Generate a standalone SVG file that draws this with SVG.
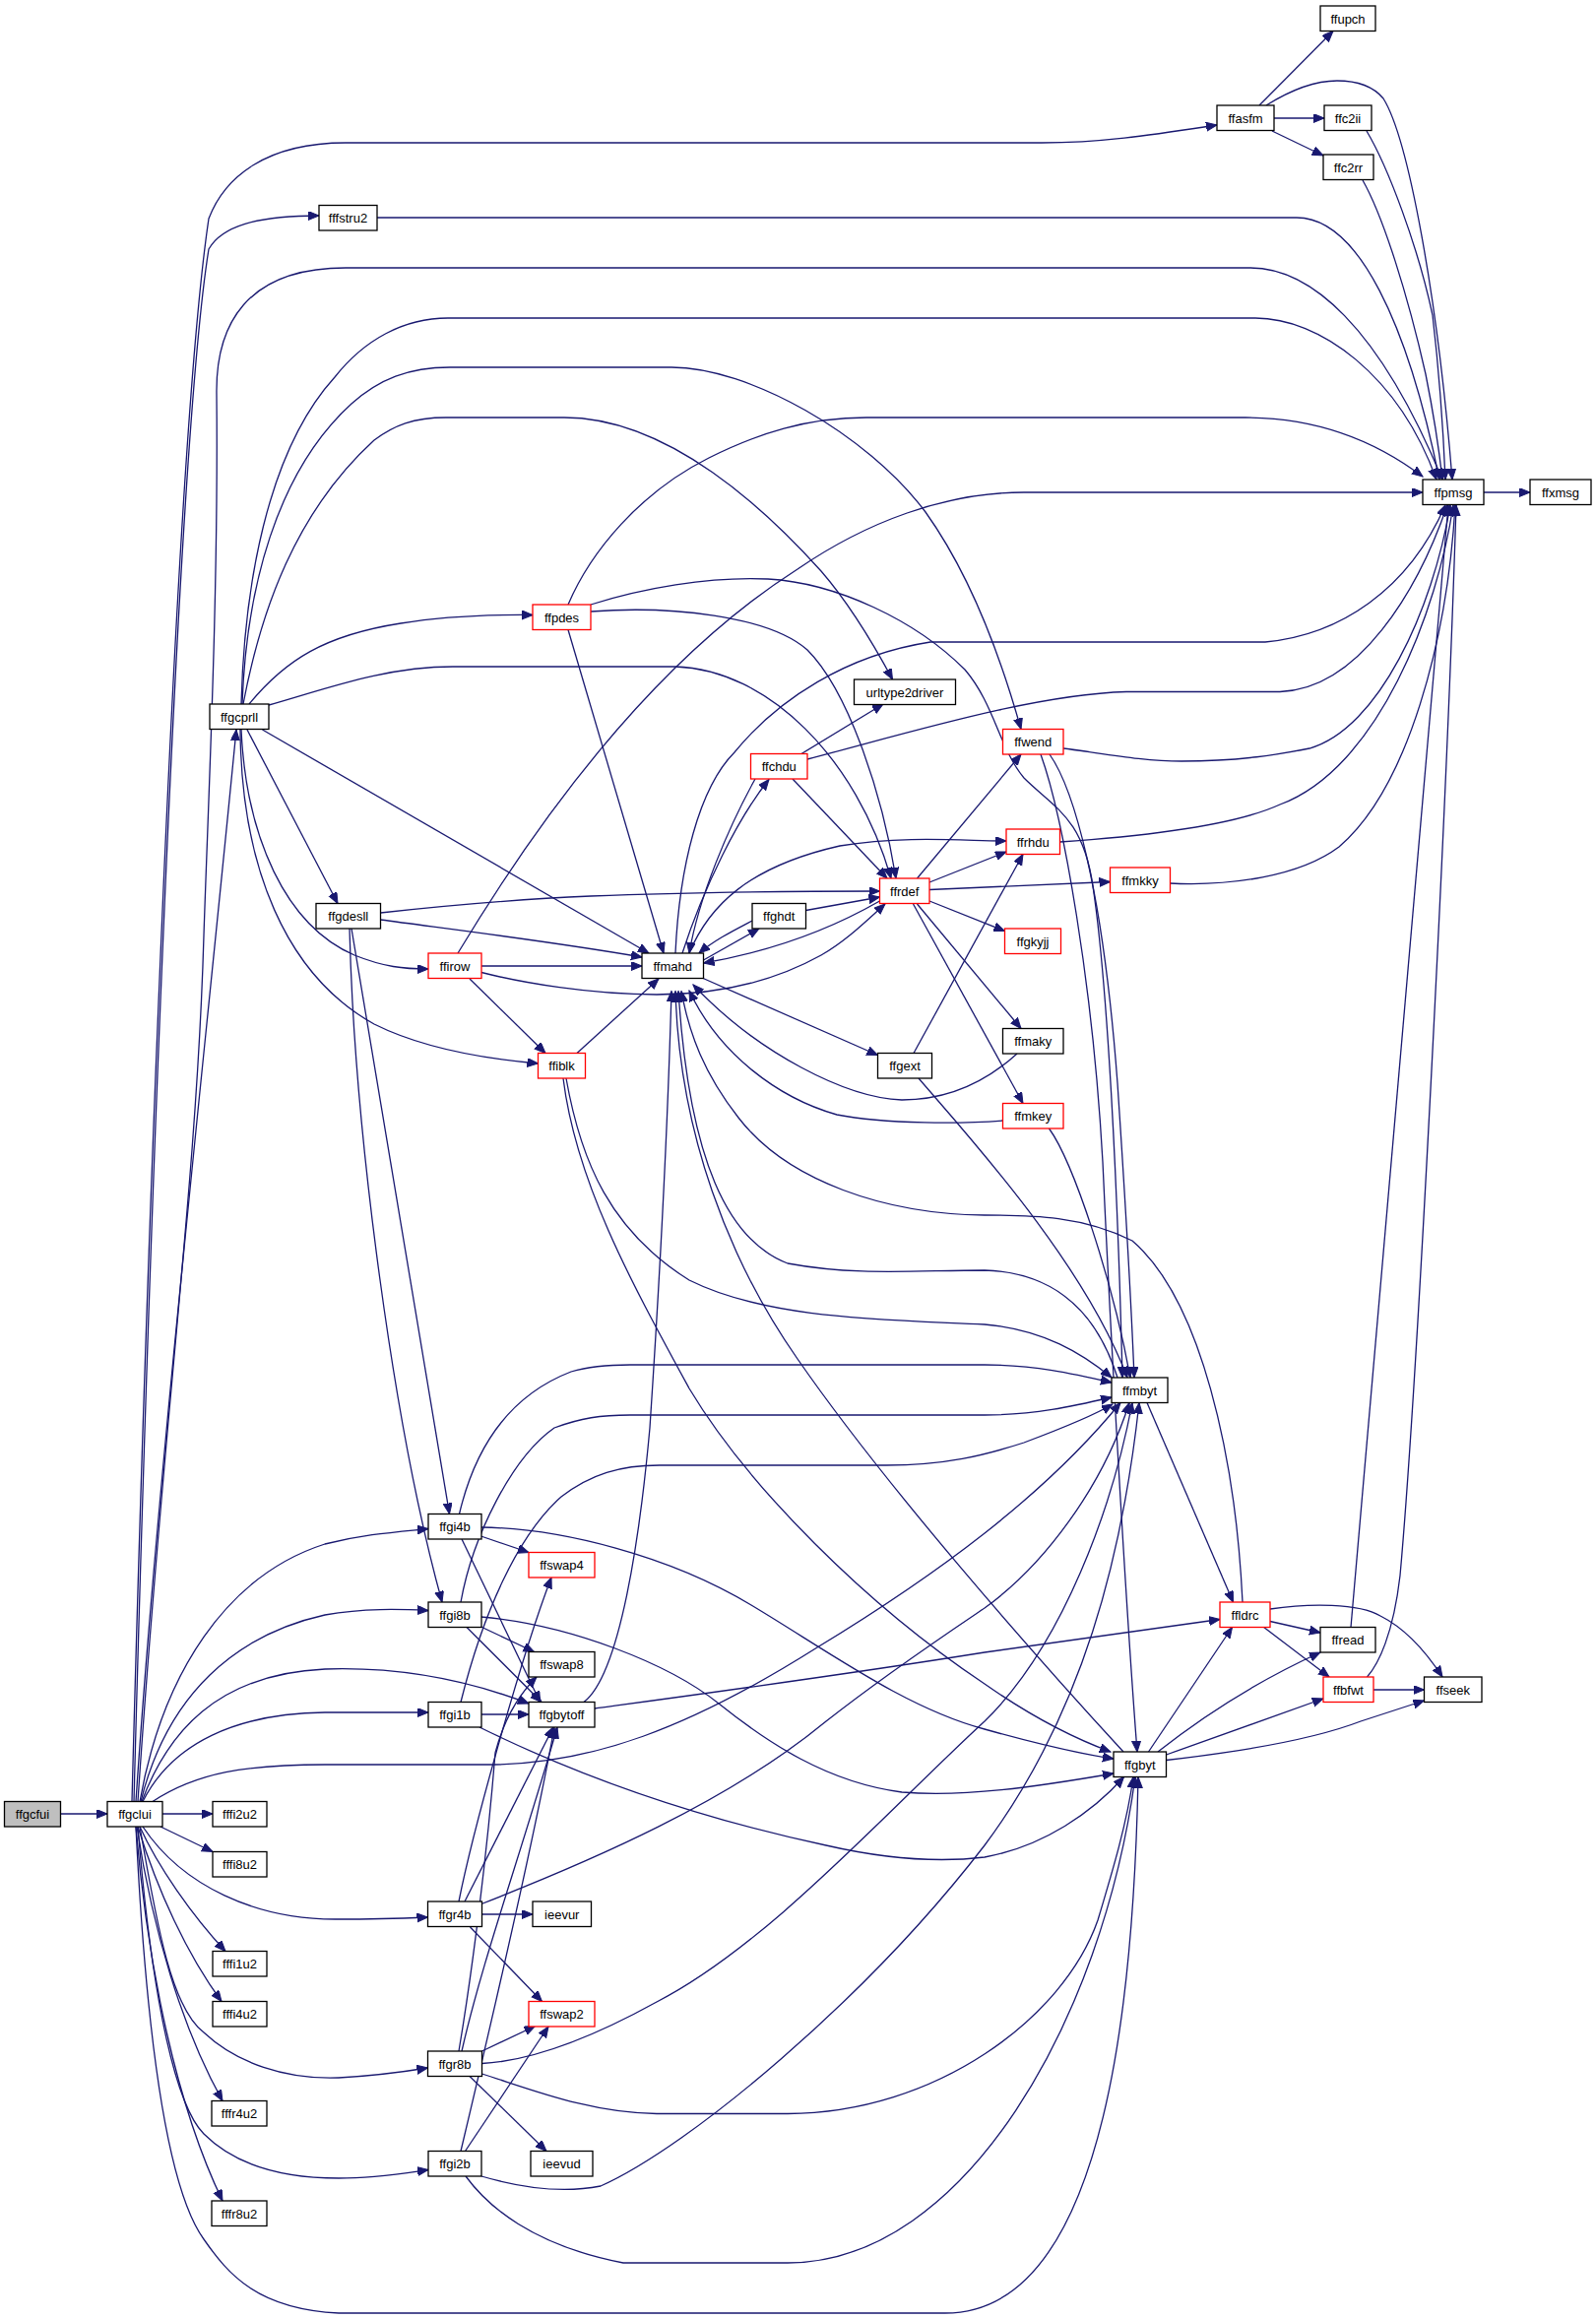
<svg xmlns="http://www.w3.org/2000/svg" width="1621" height="2355" viewBox="0 0 1621 2355">
<defs>
<marker id="a" markerWidth="12" markerHeight="10" refX="11" refY="4.5" orient="auto" markerUnits="userSpaceOnUse"><path d="M0,0 L11,4.5 L0,9 z" fill="#191970" stroke="#191970" stroke-width="1"/></marker>
<style>
.e{fill:none;stroke:#191970;stroke-width:1.3;marker-end:url(#a)}
.n rect{fill:#fff;stroke:#000;stroke-width:1.3}
.r rect{fill:#fff;stroke:#ff0000;stroke-width:1.3}
.g rect{fill:#bfbfbf;stroke:#000;stroke-width:1.3}
text{font-family:"Liberation Sans",Arial,sans-serif;font-size:13px;text-anchor:middle;fill:#000}
</style>
</defs>
<rect width="1621" height="2355" fill="#fff"/>
<g id="edges">
<path class="e" d="M61.5,1842 L109,1842"/>
<path class="e" d="M165,1842 L216,1842"/>
<path class="e" d="M163,1855 L216,1880.5"/>
<path class="e" d="M142,1855 C160,1895 195,1945 229,1981.5"/>
<path class="e" d="M140,1855 C160,1920 190,1985 225,2032.5"/>
<path class="e" d="M139,1855 C155,1960 185,2060 226,2133.5"/>
<path class="e" d="M138,1855 C150,2000 180,2140 226,2235"/>
<path class="e" d="M145,1855 C185,1915 260,1950 344,1949 C380,1949 410,1948 434.5,1947"/>
<path class="e" d="M142,1855 C160,1960 175,2040 207,2064 C240,2095 290,2112 344,2110 C380,2108 410,2104 434.5,2100"/>
<path class="e" d="M140,1855 C155,2040 180,2140 207,2167 C240,2200 290,2212 344,2212 C380,2212 410,2207 435,2203.5"/>
<path class="e" d="M138,1855 C150,2100 175,2230 207,2274 C232,2310 262,2345 344,2349 L960,2349 C1130,2349 1152,2000 1156,1804.5"/>
<path class="e" d="M142,1829.5 C165,1700 230,1600 330,1568 C370,1558 400,1556 435,1552.5"/>
<path class="e" d="M143,1829.5 C170,1720 240,1660 330,1640 C370,1633 405,1634 435,1635.5"/>
<path class="e" d="M144,1829.5 C170,1760 220,1700 330,1695 C420,1692 490,1712 537,1730"/>
<path class="e" d="M145,1829.5 C175,1770 240,1740 330,1739 L435,1739"/>
<path class="e" d="M155,1829.5 C200,1800 250,1792 330,1792 L495,1792 C600,1792 700,1755 830,1673 C950,1600 1060,1520 1138,1424.5"/>
<path class="e" d="M136,1829.5 C150,1300 180,450 212,253 C225,230 260,219 324,219"/>
<path class="e" d="M134,1829.5 C148,1300 178,450 212,222 C228,180 270,145 351,145 L1058,145 C1120,145 1170,137 1236,127"/>
<path class="e" d="M138,1829.5 C160,1500 205,1100 240,741"/>
<path class="e" d="M140,1829.5 C165,1450 200,1200 207,950 C212,800 222,600 220,400 C219,330 250,272 351,272 L1270,272 C1330,272 1400,330 1465,487"/>
<path class="e" d="M383,221 L1317,221 C1380,221 1430,330 1462,487"/>
<path class="e" d="M245,715 C248,600 270,460 340,383 C370,345 410,323 455,323 L1275,323 C1340,323 1420,380 1459,487"/>
<path class="e" d="M246,715 C250,600 280,480 357,410 C385,385 415,373 457,373 L682,373 C760,373 880,440 940,520 C990,590 1020,680 1037,740.5"/>
<path class="e" d="M247,715 C265,620 300,520 380,447 C400,432 420,424 453,424 L573,424 C680,424 780,520 834,580 C860,610 885,650 906.5,690"/>
<path class="e" d="M253,715 C290,670 330,645 407,633 C450,626 490,624 541,624.5"/>
<path class="e" d="M273,716 C330,700 390,677 460,677 L686,677 C780,680 870,770 905,892"/>
<path class="e" d="M266.5,741 L659,968"/>
<path class="e" d="M251,741 L343,917.5"/>
<path class="e" d="M245,741 C250,850 290,940 360,970 C390,982 410,984 435,984"/>
<path class="e" d="M244,741 C245,880 290,990 380,1040 C430,1065 490,1075 546.5,1080"/>
<path class="e" d="M577,639.5 L674,968"/>
<path class="e" d="M600,621 C680,615 780,625 820,660 C860,700 895,800 910,892"/>
<path class="e" d="M600,614 C650,598 720,585 780,588 C850,592 930,630 980,680 C1010,715 1015,760 1040,790 C1070,820 1100,830 1110,900 C1125,1000 1135,1200 1140,1399"/>
<path class="e" d="M577,614 C600,560 650,500 720,465 C770,440 820,424 880,424 L1265,424 C1340,424 1400,450 1445,484"/>
<path class="e" d="M489,981 L652,981"/>
<path class="e" d="M489,987.5 C530,998 600,1010 667,1010 C720,1010 780,1000 834,970 C860,955 880,935 899,918"/>
<path class="e" d="M477,994 L554,1069.5"/>
<path class="e" d="M465,968 C530,860 650,680 810,578 C880,530 960,500 1040,500 L1445,500"/>
<path class="e" d="M386.5,927 C450,920 530,913 600,910 C700,906 800,905 893.5,905"/>
<path class="e" d="M386.5,934 C460,944 560,956 652,972"/>
<path class="e" d="M357,943 L456.5,1537.5"/>
<path class="e" d="M355,943 C360,1150 400,1450 449,1627"/>
<path class="e" d="M586,1069.5 L669,994"/>
<path class="e" d="M575,1095 C590,1180 620,1250 700,1300 C780,1340 900,1340 1000,1345 C1060,1350 1100,1375 1129,1399"/>
<path class="e" d="M572,1095 C585,1200 640,1300 700,1410 C760,1510 880,1630 1000,1710 C1050,1745 1090,1765 1128,1779"/>
<path class="e" d="M1141,1779 C1050,1680 900,1510 810,1380 C740,1280 690,1150 686,1006.5"/>
<path class="e" d="M1135,1399 C1110,1320 1060,1292 1000,1290 C930,1290 870,1296 800,1283 C740,1260 700,1180 689,1006.5"/>
<path class="e" d="M1262,1627 C1255,1480 1220,1320 1150,1260 C1100,1235 1050,1234 1000,1234 C900,1233 800,1200 750,1135 C715,1090 700,1050 692,1006.5"/>
<path class="e" d="M1018.5,1138 C980,1141 900,1142 850,1132 C790,1115 730,1070 700,1006"/>
<path class="e" d="M1033,1070 C1000,1100 960,1117 916,1117 C860,1115 770,1070 704,1000"/>
<path class="e" d="M593,1728.5 C630,1700 650,1560 660,1450 C670,1300 678,1150 682,1006.5"/>
<path class="e" d="M693,968 C715,900 750,830 781,791.5"/>
<path class="e" d="M767,791 C740,840 710,910 700,968"/>
<path class="e" d="M686,968 C690,880 710,800 746,764 C790,710 860,665 945,652 L1285,652 C1360,645 1430,600 1468,513"/>
<path class="e" d="M714.5,975 L771,943"/>
<path class="e" d="M764,935 C745,945 725,955 710,968"/>
<path class="e" d="M818.5,924.5 L893.5,911"/>
<path class="e" d="M893.5,915 C850,940 790,965 714.5,978"/>
<path class="e" d="M700,968 C720,920 760,880 853,859 C920,848 980,854 1022,854"/>
<path class="e" d="M713,993 L891.5,1071.5"/>
<path class="e" d="M928,1069.5 L1039,867.5"/>
<path class="e" d="M933,1095 C980,1150 1100,1280 1145,1399"/>
<path class="e" d="M931.5,918 L1037,1044.5"/>
<path class="e" d="M927.5,918 L1039,1120.5"/>
<path class="e" d="M944,915 L1020.5,945.5"/>
<path class="e" d="M944,903.5 L1127.5,895.5"/>
<path class="e" d="M944,896 L1022,865"/>
<path class="e" d="M931.5,892 L1037,766"/>
<path class="e" d="M805,791 L901,892"/>
<path class="e" d="M814,765.5 L897,715"/>
<path class="e" d="M820,771 C920,745 1050,705 1144,702.5 L1300,702.5 C1380,700 1440,600 1470,513"/>
<path class="e" d="M1080,760 C1120,765 1160,773 1200,773 C1260,773 1300,766 1330,760 C1400,740 1455,620 1473,513"/>
<path class="e" d="M1066,766 C1090,800 1120,900 1135,1100 C1145,1250 1150,1350 1152,1399"/>
<path class="e" d="M1057,766 C1080,830 1110,1000 1120,1180 C1130,1400 1145,1650 1155,1779"/>
<path class="e" d="M1076.5,855 C1150,850 1250,840 1300,817 C1400,780 1460,620 1476,513"/>
<path class="e" d="M1188,897 C1250,900 1320,890 1360,860 C1430,800 1470,650 1478,513"/>
<path class="e" d="M1065.5,1146 C1090,1180 1130,1300 1148,1399"/>
<path class="e" d="M1165,1424.5 L1252.5,1627"/>
<path class="e" d="M1290,1646.5 L1341,1658"/>
<path class="e" d="M1283,1652 L1350,1703"/>
<path class="e" d="M1290,1634 C1330,1628 1380,1628 1402,1641 C1430,1655 1450,1680 1465,1703"/>
<path class="e" d="M1394.5,1716 L1446.5,1716"/>
<path class="e" d="M1166.5,1779 L1251.5,1652.5"/>
<path class="e" d="M1176,1779 C1200,1760 1260,1715 1341,1678"/>
<path class="e" d="M1184.5,1782 L1344,1725"/>
<path class="e" d="M1184.5,1787.5 C1250,1780 1330,1768 1382,1748 L1446.5,1727"/>
<path class="e" d="M1372,1652.5 L1471,513"/>
<path class="e" d="M1388.5,1703 C1400,1690 1415,1660 1422,1600 C1440,1400 1470,800 1479,513"/>
<path class="e" d="M1279,107 L1354,31.5"/>
<path class="e" d="M1294,120 L1345,120"/>
<path class="e" d="M1292,133 L1344,158"/>
<path class="e" d="M1286,107 C1310,92 1335,82 1358,82 C1380,82 1395,88 1405,100 C1430,140 1460,300 1475,487"/>
<path class="e" d="M1388,133 C1410,170 1440,250 1455,320 C1462,380 1466,440 1468,487"/>
<path class="e" d="M1384,183 C1405,220 1430,300 1448,380 C1456,420 1462,460 1465,487"/>
<path class="e" d="M1507,500 L1554,500"/>
<path class="e" d="M488.5,1560 L537,1576.5"/>
<path class="e" d="M469,1563 L548.5,1728.5"/>
<path class="e" d="M466.5,1537.5 C480,1480 510,1420 580,1393 C600,1387 620,1386 640,1386 L1000,1386 C1050,1386 1090,1395 1129,1404"/>
<path class="e" d="M488.5,1551 C570,1552 680,1580 763,1630 C840,1676 920,1735 1000,1756 C1050,1770 1090,1780 1131,1786"/>
<path class="e" d="M488.5,1652 L542.5,1677.5"/>
<path class="e" d="M474,1652.5 L550,1728.5"/>
<path class="e" d="M468,1627 C480,1560 520,1480 563,1450 C590,1440 610,1437 640,1437 L1000,1437 C1050,1437 1090,1428 1129,1419"/>
<path class="e" d="M488.5,1642 C580,1650 680,1690 730,1730 C780,1770 840,1810 916,1820 C980,1825 1050,1815 1131,1801"/>
<path class="e" d="M488.5,1741 L537,1741"/>
<path class="e" d="M468,1728.5 C490,1640 525,1560 570,1520 C600,1497 630,1488 670,1488 L900,1488 C960,1488 1000,1478 1040,1465 C1080,1450 1110,1438 1130,1426"/>
<path class="e" d="M487,1754 C560,1790 680,1840 839,1874 C900,1888 950,1892 1000,1886 C1060,1875 1110,1840 1141.5,1804.5"/>
<path class="e" d="M604,1735 C700,1722 850,1702 1000,1678 L1239,1644.5"/>
<path class="e" d="M489.5,1944 L541,1944"/>
<path class="e" d="M477.5,1957 L550.5,2032.5"/>
<path class="e" d="M466,1931 C480,1860 530,1680 560,1602"/>
<path class="e" d="M472,1931 L562,1754"/>
<path class="e" d="M489,1933.5 C600,1890 740,1830 839,1748 C900,1700 960,1660 1000,1633 C1060,1590 1120,1510 1147,1424.5"/>
<path class="e" d="M489.5,2083 L543.5,2057.5"/>
<path class="e" d="M477,2108.5 L555,2184.5"/>
<path class="e" d="M466,2083 C480,2000 495,1880 503,1780 C512,1745 528,1720 545,1703"/>
<path class="e" d="M469,2083 C490,1990 530,1880 566,1754"/>
<path class="e" d="M489.5,2095.5 C540,2093 600,2070 667,2033 C780,1975 900,1840 1000,1748 C1080,1670 1130,1530 1150,1424.5"/>
<path class="e" d="M489.5,2106 C540,2122 600,2146 667,2146.5 L800,2146.5 C950,2146 1080,2050 1115,1950 C1130,1900 1145,1850 1151,1804.5"/>
<path class="e" d="M472.5,2184.5 L557,2058"/>
<path class="e" d="M468,2184.5 C500,2050 540,1880 563,1754.5"/>
<path class="e" d="M489,2210 C530,2222 570,2228 610,2220 C700,2180 880,2030 1000,1874 C1100,1740 1140,1580 1157,1424.5"/>
<path class="e" d="M473,2210 C495,2240 540,2280 633,2298 L800,2298 C980,2298 1120,2050 1153,1804.5"/>
</g>
<g id="ffgcfui" class="g"><rect x="4.5" y="1829.5" width="57" height="25.5"/><text x="33" y="1847">ffgcfui</text></g>
<g id="ffgclui" class="n"><rect x="109" y="1829.5" width="56" height="25.5"/><text x="137" y="1847">ffgclui</text></g>
<g id="fffi2u2" class="n"><rect x="216" y="1829.5" width="55" height="25.5"/><text x="243.5" y="1847">fffi2u2</text></g>
<g id="fffi8u2" class="n"><rect x="216" y="1880.5" width="55" height="25.5"/><text x="243.5" y="1898">fffi8u2</text></g>
<g id="fffi1u2" class="n"><rect x="216" y="1981.5" width="55" height="25.5"/><text x="243.5" y="1999">fffi1u2</text></g>
<g id="fffi4u2" class="n"><rect x="216" y="2032.5" width="55" height="25.5"/><text x="243.5" y="2050">fffi4u2</text></g>
<g id="fffr4u2" class="n"><rect x="215" y="2133.5" width="56" height="25.5"/><text x="243" y="2151">fffr4u2</text></g>
<g id="fffr8u2" class="n"><rect x="215" y="2235" width="56" height="25.5"/><text x="243" y="2252.5">fffr8u2</text></g>
<g id="ffgr4b" class="n"><rect x="434.5" y="1931" width="55" height="25.5"/><text x="462" y="1948.5">ffgr4b</text></g>
<g id="ieevur" class="n"><rect x="541" y="1931" width="59.5" height="25.5"/><text x="570.75" y="1948.5">ieevur</text></g>
<g id="ffswap2" class="r"><rect x="537" y="2032.5" width="67" height="25.5"/><text x="570.5" y="2050">ffswap2</text></g>
<g id="ffgr8b" class="n"><rect x="434.5" y="2083" width="55" height="25.5"/><text x="462" y="2100.5">ffgr8b</text></g>
<g id="ffgi2b" class="n"><rect x="435" y="2184.5" width="54" height="25.5"/><text x="462" y="2202">ffgi2b</text></g>
<g id="ieevud" class="n"><rect x="539" y="2184.5" width="63" height="25.5"/><text x="570.5" y="2202">ieevud</text></g>
<g id="ffgi4b" class="n"><rect x="435" y="1537.5" width="54" height="25.5"/><text x="462" y="1555">ffgi4b</text></g>
<g id="ffswap4" class="r"><rect x="537" y="1576.5" width="67" height="25.5"/><text x="570.5" y="1594">ffswap4</text></g>
<g id="ffgi8b" class="n"><rect x="435" y="1627" width="54" height="25.5"/><text x="462" y="1644.5">ffgi8b</text></g>
<g id="ffswap8" class="n"><rect x="537" y="1677.5" width="67" height="25.5"/><text x="570.5" y="1695">ffswap8</text></g>
<g id="ffgi1b" class="n"><rect x="435" y="1728.5" width="54" height="25.5"/><text x="462" y="1746">ffgi1b</text></g>
<g id="ffgbytoff" class="n"><rect x="537" y="1728.5" width="67" height="25.5"/><text x="570.5" y="1746">ffgbytoff</text></g>
<g id="ffmbyt" class="n"><rect x="1129" y="1399" width="57" height="25.5"/><text x="1157.5" y="1416.5">ffmbyt</text></g>
<g id="ffgbyt" class="n"><rect x="1131" y="1779" width="53.5" height="25.5"/><text x="1157.75" y="1796.5">ffgbyt</text></g>
<g id="ffldrc" class="r"><rect x="1239" y="1627" width="51" height="25.5"/><text x="1264.5" y="1644.5">ffldrc</text></g>
<g id="ffread" class="n"><rect x="1341" y="1652.5" width="56" height="25.5"/><text x="1369" y="1670">ffread</text></g>
<g id="ffbfwt" class="r"><rect x="1344" y="1703" width="51" height="25.5"/><text x="1369.5" y="1720.5">ffbfwt</text></g>
<g id="ffseek" class="n"><rect x="1446.5" y="1703" width="58.5" height="25.5"/><text x="1475.75" y="1720.5">ffseek</text></g>
<g id="ffgcprll" class="n"><rect x="213" y="715" width="60" height="25.5"/><text x="243" y="732.5">ffgcprll</text></g>
<g id="ffpdes" class="r"><rect x="541" y="614" width="59" height="25.5"/><text x="570.5" y="631.5">ffpdes</text></g>
<g id="ffgdesll" class="n"><rect x="321" y="917.5" width="65.5" height="25.5"/><text x="353.75" y="935">ffgdesll</text></g>
<g id="ffirow" class="r"><rect x="435" y="968" width="54" height="25.5"/><text x="462" y="985.5">ffirow</text></g>
<g id="ffmahd" class="n"><rect x="652" y="968" width="62.5" height="25.5"/><text x="683.25" y="985.5">ffmahd</text></g>
<g id="ffiblk" class="r"><rect x="546.5" y="1069.5" width="48" height="25.5"/><text x="570.5" y="1087">ffiblk</text></g>
<g id="urltype2driver" class="n"><rect x="867.5" y="690" width="103" height="25.5"/><text x="919" y="707.5">urltype2driver</text></g>
<g id="ffchdu" class="r"><rect x="762.5" y="765.5" width="57.5" height="25.5"/><text x="791.25" y="783">ffchdu</text></g>
<g id="ffwend" class="r"><rect x="1018.5" y="740.5" width="61.5" height="25.5"/><text x="1049.25" y="758">ffwend</text></g>
<g id="ffrhdu" class="r"><rect x="1022" y="842" width="54.5" height="25.5"/><text x="1049.25" y="859.5">ffrhdu</text></g>
<g id="ffrdef" class="r"><rect x="893.5" y="892" width="50.5" height="25.5"/><text x="918.75" y="909.5">ffrdef</text></g>
<g id="ffmkky" class="r"><rect x="1127.5" y="881" width="61" height="25.5"/><text x="1158" y="898.5">ffmkky</text></g>
<g id="ffghdt" class="n"><rect x="764" y="917.5" width="54.5" height="25.5"/><text x="791.25" y="935">ffghdt</text></g>
<g id="ffgkyjj" class="r"><rect x="1020.5" y="943" width="57" height="25.5"/><text x="1049" y="960.5">ffgkyjj</text></g>
<g id="ffgext" class="n"><rect x="891.5" y="1069.5" width="55" height="25.5"/><text x="919" y="1087">ffgext</text></g>
<g id="ffmaky" class="n"><rect x="1018.5" y="1044.5" width="61.5" height="25.5"/><text x="1049.25" y="1062">ffmaky</text></g>
<g id="ffmkey" class="r"><rect x="1018.5" y="1120.5" width="61.5" height="25.5"/><text x="1049.25" y="1138">ffmkey</text></g>
<g id="ffasfm" class="n"><rect x="1236" y="107" width="58" height="25.5"/><text x="1265" y="124.5">ffasfm</text></g>
<g id="ffupch" class="n"><rect x="1341" y="6" width="56" height="25.5"/><text x="1369" y="23.5">ffupch</text></g>
<g id="ffc2ii" class="n"><rect x="1345" y="107" width="48" height="25.5"/><text x="1369" y="124.5">ffc2ii</text></g>
<g id="ffc2rr" class="n"><rect x="1344" y="157" width="51" height="25.5"/><text x="1369.5" y="174.5">ffc2rr</text></g>
<g id="fffstru2" class="n"><rect x="324" y="208.5" width="59" height="25.5"/><text x="353.5" y="226">fffstru2</text></g>
<g id="ffpmsg" class="n"><rect x="1445" y="487" width="62" height="25.5"/><text x="1476" y="504.5">ffpmsg</text></g>
<g id="ffxmsg" class="n"><rect x="1554" y="487" width="62" height="25.5"/><text x="1585" y="504.5">ffxmsg</text></g>
</svg>
